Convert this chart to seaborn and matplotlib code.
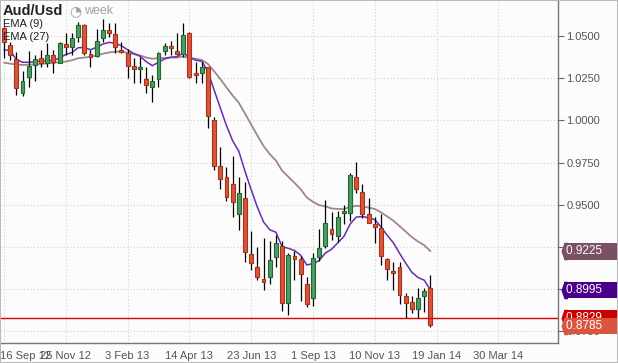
import numpy as np
import pandas as pd
import seaborn as sns
import matplotlib.pyplot as plt
import matplotlib.transforms as mtransforms
from matplotlib.patches import Rectangle

sns.set_style("white")
plt.rcParams['font.family'] = ['Liberation Sans', 'DejaVu Sans']

# weekly candles, AUD/USD, week of 16 Sep 2012 .. 12 Jan 2014
dates = pd.date_range("2012-09-16", periods=70, freq="7D")

opens = [1.0547, 1.0447, 1.0362, 1.0161, 1.0255, 1.0328, 1.0368, 1.0342, 1.0388, 1.0342,
         1.0453, 1.0433, 1.0492, 1.0565, 1.0393, 1.0382, 1.0486, 1.0536, 1.0512, 1.0417,
         1.0401, 1.0324, 1.0303, 1.0244, 1.0196, 1.0244, 1.0413, 1.0441, 1.0411, 1.0393,
         1.0520, 1.0283, 1.0283, 1.0315, 1.0002, 0.9730, 0.9667, 0.9623, 0.9444, 0.9539,
         0.9209, 0.9130, 0.9059, 0.9071, 0.9189, 0.9258, 0.8917, 0.9197, 0.9177, 0.9031,
         0.8946, 0.9193, 0.9258, 0.9355, 0.9315, 0.9450, 0.9450, 0.9663, 0.9578, 0.9444,
         0.9386, 0.9361, 0.9177, 0.9106, 0.9130, 0.8960, 0.8926, 0.8881, 0.8960, 0.9005]
closes = [1.0466, 1.0388, 1.0190, 1.0233, 1.0324, 1.0362, 1.0342, 1.0388, 1.0348, 1.0457,
          1.0433, 1.0486, 1.0565, 1.0398, 1.0374, 1.0472, 1.0536, 1.0516, 1.0433, 1.0405,
          1.0324, 1.0305, 1.0315, 1.0210, 1.0233, 1.0401, 1.0441, 1.0427, 1.0392, 1.0506,
          1.0255, 1.0271, 1.0315, 1.0028, 0.9732, 0.9651, 0.9548, 0.9518, 0.9568, 0.9222,
          0.9153, 0.9074, 0.9045, 0.9173, 0.9272, 0.8917, 0.9203, 0.9177, 0.9090, 0.8912,
          0.9183, 0.9242, 0.9390, 0.9325, 0.9426, 0.9463, 0.9677, 0.9592, 0.9444, 0.9394,
          0.9370, 0.9197, 0.9118, 0.9098, 0.8966, 0.8920, 0.8881, 0.8946, 0.8991, 0.8785]
highs = [1.0553, 1.0466, 1.0407, 1.0293, 1.0411, 1.0388, 1.0417, 1.0457, 1.0417, 1.0466,
         1.0516, 1.0516, 1.0585, 1.0571, 1.0417, 1.0540, 1.0599, 1.0579, 1.0575, 1.0466,
         1.0421, 1.0368, 1.0374, 1.0318, 1.0269, 1.0407, 1.0460, 1.0472, 1.0516, 1.0579,
         1.0525, 1.0348, 1.0348, 1.0318, 1.0018, 0.9844, 0.9726, 0.9789, 0.9663, 0.9637,
         0.9347, 0.9252, 0.9302, 0.9287, 0.9321, 0.9287, 0.9216, 0.9228, 0.9197, 0.9071,
         0.9213, 0.9355, 0.9528, 0.9459, 0.9465, 0.9499, 0.9687, 0.9755, 0.9623, 0.9542,
         0.9429, 0.9446, 0.9183, 0.9163, 0.9163, 0.8976, 0.8960, 0.9005, 0.9005, 0.9084]
lows = [1.0370, 1.0358, 1.0151, 1.0145, 1.0200, 1.0233, 1.0318, 1.0318, 1.0283, 1.0338,
        1.0388, 1.0388, 1.0466, 1.0388, 1.0318, 1.0374, 1.0466, 1.0492, 1.0398, 1.0398,
        1.0253, 1.0223, 1.0220, 1.0161, 1.0111, 1.0200, 1.0388, 1.0388, 1.0388, 1.0377,
        1.0250, 1.0220, 1.0220, 0.9957, 0.9706, 0.9592, 0.9523, 0.9426, 0.9351, 0.9163,
        0.9114, 0.9055, 0.8995, 0.9031, 0.9130, 0.8873, 0.8847, 0.9055, 0.8932, 0.8893,
        0.8900, 0.9169, 0.9242, 0.9292, 0.9281, 0.9386, 0.9406, 0.9572, 0.9420, 0.9390,
        0.9272, 0.9143, 0.9055, 0.8995, 0.8912, 0.8828, 0.8861, 0.8828, 0.8867, 0.8778]

ema9 = [1.0417, 1.0414, 1.0360, 1.0344, 1.0344, 1.0348, 1.0352, 1.0354, 1.0354, 1.0370,
        1.0390, 1.0402, 1.0430, 1.0432, 1.0418, 1.0434, 1.0452, 1.0462, 1.0457, 1.0442,
        1.0418, 1.0396, 1.0380, 1.0348, 1.0324, 1.0344, 1.0364, 1.0374, 1.0377, 1.0398,
        1.0374, 1.0356, 1.0350, 1.0290, 1.0180, 1.0074, 0.9969, 0.9879, 0.9817, 0.9698,
        0.9589, 0.9486, 0.9398, 0.9352, 0.9337, 0.9252, 0.9242, 0.9229, 0.9201, 0.9143,
        0.9152, 0.9169, 0.9214, 0.9236, 0.9274, 0.9312, 0.9385, 0.9427, 0.9430, 0.9423,
        0.9412, 0.9369, 0.9319, 0.9275, 0.9213, 0.9154, 0.9100, 0.9069, 0.9053, 0.8995]
ema27 = [1.0342, 1.0336, 1.0330, 1.0328, 1.0330, 1.0332, 1.0334, 1.0338, 1.0340, 1.0345,
         1.0348, 1.0356, 1.0368, 1.0372, 1.0376, 1.0385, 1.0395, 1.0402, 1.0407, 1.0407,
         1.0400, 1.0393, 1.0385, 1.0372, 1.0365, 1.0368, 1.0370, 1.0372, 1.0372, 1.0378,
         1.0370, 1.0365, 1.0358, 1.0334, 1.0291, 1.0245, 1.0195, 1.0147, 1.0104, 1.0040,
         0.9975, 0.9910, 0.9848, 0.9800, 0.9762, 0.9702, 0.9666, 0.9630, 0.9592, 0.9543,
         0.9517, 0.9498, 0.9490, 0.9478, 0.9475, 0.9474, 0.9487, 0.9494, 0.9490, 0.9483,
         0.9475, 0.9455, 0.9431, 0.9406, 0.9374, 0.9341, 0.9308, 0.9282, 0.9260, 0.9225]

bid = 0.8829
tick_dates = pd.to_datetime(["2012-09-16", "2012-11-25", "2013-02-03", "2013-04-14", "2013-06-23",
                             "2013-09-01", "2013-11-10", "2014-01-19", "2014-03-30"])
tick_labels = ["16 Sep 12", "25 Nov 12", "3 Feb 13", "14 Apr 13", "23 Jun 13",
               "1 Sep 13", "10 Nov 13", "19 Jan 14", "30 Mar 14"]
y_ticks = [0.875, 0.900, 0.925, 0.950, 0.975, 1.000, 1.025, 1.050]

df = pd.DataFrame({"date": dates, "open": opens, "high": highs, "low": lows,
                   "close": closes, "ema9": ema9, "ema27": ema27})
up = df["close"] >= df["open"]

fig = plt.figure(figsize=(6.18, 3.63), dpi=100, facecolor="#fcfcfc")
ax = fig.add_axes([0.0, 20 / 363, 558 / 618, 342 / 363])
ax.set_facecolor("#fcfcfc")

# grid
for d in tick_dates:
    ax.axvline(d, color="#c2d8c2", lw=0.8, ls=(0, (1, 2)), zorder=0)
for v in y_ticks:
    ax.axhline(v, color="#c8d4c8", lw=0.8, ls=(0, (1, 2)), zorder=0)

# EMAs
sns.lineplot(data=df, x="date", y="ema27", color="#a0858c", lw=1.3, ax=ax, zorder=2)
sns.lineplot(data=df, x="date", y="ema9", color="#6a2bb0", lw=1.1, ax=ax, zorder=2)

# candles
ax.vlines(df["date"], df["low"], df["high"], color="black", lw=0.9, zorder=3)
w = pd.Timedelta(days=4.4)
body_lo = np.minimum(df["open"], df["close"])
body_h = np.abs(df["close"] - df["open"])
ax.bar(df["date"][up], body_h[up], bottom=body_lo[up], width=w, color="#4f9a69",
       edgecolor="#1d6a2c", lw=0.8, zorder=4)
ax.bar(df["date"][~up], body_h[~up], bottom=body_lo[~up], width=w, color="#d9553b",
       edgecolor="#a8331a", lw=0.8, zorder=4)

ax.axhline(bid, color="#dd0000", lw=1.0, zorder=5)

ax.set_xlim(dates[0] - pd.Timedelta(days=4.5), dates[0] + pd.Timedelta(days=627.5))
ax.set_ylim(0.8681, 1.0707)
ax.set_xticks(tick_dates)
ax.set_xticklabels(tick_labels)
ax.set_yticks(y_ticks)
ax.set_yticklabels(["%.4f" % v for v in y_ticks])
ax.yaxis.tick_right()
ax.tick_params(axis="both", colors="#666666", labelcolor="#555555", labelsize=8,
               length=4, width=0.8, direction="out", pad=2)
# first date label sits against the left edge, as in the source
first = ax.get_xticklabels()[0]
first.set_horizontalalignment("left")
first.set_transform(first.get_transform() + mtransforms.ScaledTranslation(-4 / 100, 0, fig.dpi_scale_trans))
ax.set_xlabel("")
ax.set_ylabel("")
for s in ["left", "top"]:
    ax.spines[s].set_visible(False)
for s in ["right", "bottom"]:
    ax.spines[s].set_color("#777777")
    ax.spines[s].set_linewidth(1.0)

# value tags on the right
def tag(v, txt, color, z):
    tr = mtransforms.offset_copy(ax.get_yaxis_transform(), fig=fig, x=4.2, y=0, units="points")
    ax.plot([1], [v], transform=tr, marker=[(-3.5, 0), (0, 10), (4, 10), (4, -10), (0, -10)],
            ms=12.6, color=color, mec="none", clip_on=False, zorder=z)
    ax.annotate(txt, xy=(1, v), xycoords=ax.get_yaxis_transform(),
                xytext=(5.8, 0), textcoords="offset points", ha="left", va="center",
                color="white", fontsize=8.5,
                bbox=dict(boxstyle="square,pad=0.2", fc=color, ec="none"),
                annotation_clip=False, zorder=z + 0.5)

tag(ema27[-1], "0.9225      ", "#7a5063", 10)
tag(ema9[-1], "0.8995      ", "#4b0088", 11)
tag(bid, "0.8829      ", "#cc0000", 12)
tag(closes[-1] - 0.0004, "0.8785      ", "#d9553f", 13)

# header texts
fig.text(3 / 618, 1 - 11 / 363, "Aud/Usd", fontsize=10.5, fontweight="bold", color="#222222", va="center")
fig.text(69 / 618, 1 - 11 / 363, "\u25d4", fontsize=10, color="#a0a0a0", va="center",
         family=["DejaVu Sans"])
fig.text(84 / 618, 1 - 11 / 363, "week", fontsize=9, color="#a0a0a0", va="center")
fig.text(3 / 618, 1 - 24 / 363, "EMA (9)", fontsize=8, color="#222222", va="center")
fig.text(3 / 618, 1 - 37 / 363, "EMA (27)", fontsize=8, color="#222222", va="center")

fig.patches.append(Rectangle((0, 0), 1, 1, transform=fig.transFigure, fill=False,
                             ec="#b8b8b8", lw=1.4, zorder=20))

fig.savefig("out.png", dpi=100, facecolor=fig.get_facecolor())
